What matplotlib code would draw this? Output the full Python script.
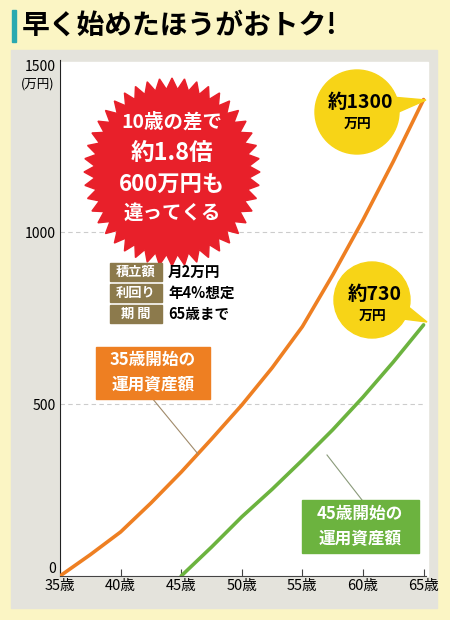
import numpy as np
import matplotlib
matplotlib.use("Agg")
import matplotlib.pyplot as plt
from matplotlib.patches import Polygon, Circle, Rectangle

plt.rcParams['font.family'] = ['Noto Sans CJK JP', 'DejaVu Sans']

ages = [35, 37.5, 40, 42.5, 45, 47.5, 50, 52.5, 55, 57.5, 60, 62.5, 65]
start35 = [0, 62, 128, 212, 302, 398, 497, 605, 725, 875, 1035, 1205, 1385]
ages45 = [45, 47.5, 50, 52.5, 55, 57.5, 60, 62.5, 65]
start45 = [0, 84, 172, 252, 337, 425, 520, 622, 730]
yticks = [0, 500, 1000, 1500]
xticks = [35, 40, 45, 50, 55, 60, 65]
xtick_labels = [f"{a}歳" for a in xticks]

BG = "#fbf5c4"
ORANGE = "#ee7f22"
GREEN = "#6cb33f"
fig = plt.figure(figsize=(4.5, 6.2), dpi=100, facecolor=BG)

bgax = fig.add_axes([0, 0, 1, 1], facecolor='none')
bgax.set_xlim(0, 450); bgax.set_ylim(620, 0); bgax.axis('off')
bgax.add_patch(Rectangle((11, 50), 426, 558, color="#e4e3dc"))
bgax.add_patch(Rectangle((60, 62), 368, 514, color="white"))
bgax.add_patch(Rectangle((12, 10), 4, 32, color="#2aa9b0"))
bgax.text(22, 26, "早く始めたほうがおトク!", fontsize=20, fontweight='bold', va='center', ha='left')

ax = fig.add_axes([60/450, 44/620, 366/450, 516/620], facecolor='none')
ax.plot(ages, start35, color=ORANGE, lw=2.6, solid_capstyle='round', zorder=3)
ax.plot(ages45, start45, color=GREEN, lw=2.6, solid_capstyle='round', zorder=3)
ax.set_xlim(35, 65.2)
ax.set_ylim(0, 1500)
ax.set_yticks(yticks)
ax.set_yticklabels([str(v) for v in yticks], fontsize=10)
ax.get_yticklabels()[0].set_va('bottom')
ax.get_yticklabels()[-1].set_va('top')
ax.set_xticks(xticks)
ax.set_xticklabels(xtick_labels, fontsize=10.5)
for v in yticks[1:3]:
    ax.axhline(v, color="#cccccc", lw=0.8, ls=(0, (4, 3)), zorder=1)
for s in ['top', 'right']:
    ax.spines[s].set_visible(False)
ax.spines['left'].set_color('#222')
ax.spines['bottom'].set_color('#444')
ax.tick_params(axis='y', length=0, pad=3)
ax.tick_params(axis='x', direction='in', length=5, color='#444', pad=2)

ov = fig.add_axes([0, 0, 1, 1], facecolor='none')
ov.set_xlim(0, 450); ov.set_ylim(620, 0); ov.axis('off')
ov.text(38, 84, "(万円)", fontsize=9, ha='center', va='center')

cx, cy = 172, 172
n = 44
ang = np.linspace(0, 2*np.pi, 2*n, endpoint=False)
r = np.where(np.arange(2*n) % 2 == 0, 1.0, 0.88)
pts = np.c_[cx + 88*r*np.cos(ang), cy + 94*r*np.sin(ang)]
ov.add_patch(Polygon(pts, closed=True, color="#e8202a", zorder=4))
ov.text(cx, 122, "10歳の差で", color='white', fontsize=14, fontweight='bold', ha='center', va='center', zorder=5)
ov.text(cx, 153, "約1.8倍", color='white', fontsize=17, fontweight='bold', ha='center', va='center', zorder=5)
ov.text(cx, 185, "600万円も", color='white', fontsize=16, fontweight='bold', ha='center', va='center', zorder=5)
ov.text(cx, 213, "違ってくる", color='white', fontsize=14, fontweight='bold', ha='center', va='center', zorder=5)

Y = "#f7d417"
ov.add_patch(Polygon([(380, 96), (426, 100), (385, 118)], color=Y, zorder=4))
ov.add_patch(Circle((357, 112), 42, color=Y, zorder=4))
ov.text(360, 103, "約1300", fontsize=14, fontweight='bold', ha='center', va='center', zorder=5)
ov.text(358, 124, "万円", fontsize=10, fontweight='bold', ha='center', va='center', zorder=5)
ov.add_patch(Polygon([(400, 300), (427, 322), (395, 318)], color=Y, zorder=4))
ov.add_patch(Circle((372, 300), 38, color=Y, zorder=4))
ov.text(375, 294, "約730", fontsize=14, fontweight='bold', ha='center', va='center', zorder=5)
ov.text(373, 316, "万円", fontsize=10, fontweight='bold', ha='center', va='center', zorder=5)

labels = ["積立額", "利回り", "期 間"]
vals = ["月2万円", "年4%想定", "65歳まで"]
for i, (l, v) in enumerate(zip(labels, vals)):
    y = 263 + i*21
    ov.add_patch(Rectangle((110, y), 52, 18, color="#8c7a4c", zorder=4))
    ov.text(136, y+9, l, color='white', fontsize=9.5, fontweight='bold', ha='center', va='center', zorder=5)
    ov.text(168, y+9, v, fontsize=10.5, fontweight='bold', ha='left', va='center', zorder=5)

ov.plot([152, 198], [398, 454], color="#a08a6a", lw=0.8, zorder=3)
ov.add_patch(Rectangle((96, 347), 114, 52, color=ORANGE, zorder=4))
ov.text(153, 360, "35歳開始の", color='white', fontsize=12, fontweight='bold', ha='center', va='center', zorder=5)
ov.text(153, 385, "運用資産額", color='white', fontsize=12, fontweight='bold', ha='center', va='center', zorder=5)
ov.plot([362, 327], [500, 455], color="#8a9a7a", lw=0.8, zorder=3)
ov.add_patch(Rectangle((302, 500), 117, 53, color=GREEN, zorder=4))
ov.text(360, 514, "45歳開始の", color='white', fontsize=12, fontweight='bold', ha='center', va='center', zorder=5)
ov.text(360, 539, "運用資産額", color='white', fontsize=12, fontweight='bold', ha='center', va='center', zorder=5)

fig.savefig("out.png", dpi=100, facecolor=BG)
